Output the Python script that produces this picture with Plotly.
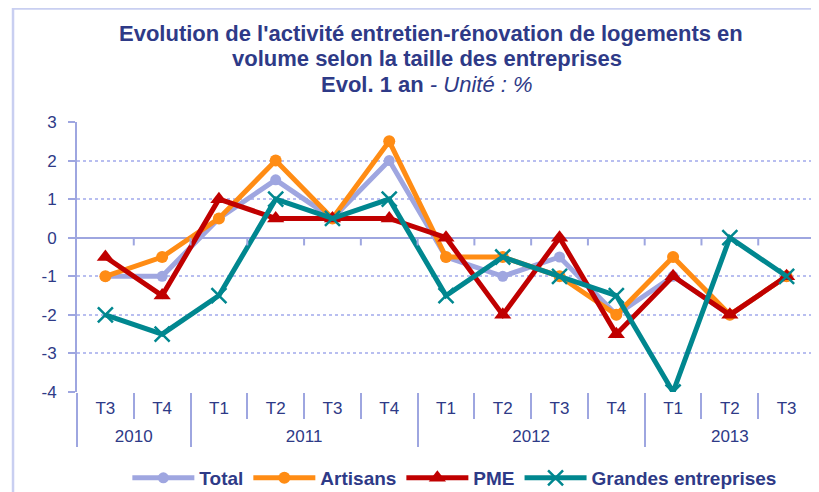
import plotly.graph_objects as go

ZW = "\u200b"  # keeps 2010 quarters distinct so multicategory ordering stays chronological
PAD = "<span style='font-size:27px'>\u00a0</span>"  # taller invisible padding: lowers the year row
years = ["2010", "2010", "2011", "2011", "2011", "2011", "2012", "2012", "2012", "2012", "2013", "2013", "2013"]
quarters = [PAD + "T3" + PAD, "T4" + ZW, "T1", "T2", "T3", "T4", "T1", "T2", "T3", "T4", "T1", "T2", "T3"]

total = [-1, -1, 0.5, 1.5, 0.5, 2, -0.5, -1, -0.5, -2, -1, -2, -1]
artisans = [-1, -0.5, 0.5, 2, 0.5, 2.5, -0.5, -0.5, -1, -2, -0.5, -2, -1]
pme = [-0.5, -1.5, 1, 0.5, 0.5, 0.5, 0, -2, 0, -2.5, -1, -2, -1]
grandes = [-2, -2.5, -1.5, 1, 0.5, 1, -1.5, -0.5, -1, -1.5, -4, 0, -1]

y_ticks = [3, 2, 1, 0, -1, -2, -3, -4]
y_labels = ["3", "2", "1", "0", "-1", "-2", "-3", "-4"]

title_lines = [
    "<b>Evolution de l'activité entretien-rénovation de logements en</b>",
    "<b>volume selon la taille des entreprises</b>",
    "<b>Evol. 1 an</b> <i>- Unité : %</i>",
]

navy = "#2e3a87"
lav = "#9ea6e0"
FONT = "Liberation Sans, Arial, sans-serif"

x = [years, quarters]
fig = go.Figure()
fig.add_trace(go.Scatter(x=x, y=total, name="Total", mode="lines+markers",
                         line=dict(color="#9fa6e0", width=5),
                         marker=dict(symbol="circle", size=11, color="#9fa6e0")))
fig.add_trace(go.Scatter(x=x, y=artisans, name="Artisans", mode="lines+markers",
                         line=dict(color="#ff8c14", width=5),
                         marker=dict(symbol="circle", size=12, color="#ff8c14")))
fig.add_trace(go.Scatter(x=x, y=pme, name="PME", mode="lines+markers",
                         line=dict(color="#c00000", width=5),
                         marker=dict(symbol="triangle-up", size=15, color="#c00000")))
fig.add_trace(go.Scatter(x=x, y=grandes, name="Grandes entreprises", mode="lines+markers",
                         line=dict(color="#00878f", width=5),
                         marker=dict(symbol="x-thin", size=15, line=dict(color="#00878f", width=2.5))))

# helper axis to place small boundary ticks on the zero line
fig.add_trace(go.Scatter(x=[0, 12], y=[None, None], xaxis="x2", showlegend=False, hoverinfo="skip"))

shapes = []
for i in range(len(quarters)):
    b = i + 0.5
    shapes.append(dict(type="line", xref="x2", yref="y", x0=b, x1=b, y0=0, y1=-0.2,
                       line=dict(color=lav, width=2), layer="above"))
# outer frame
shapes.append(dict(type="rect", xref="paper", yref="paper", x0=-0.0867, x1=1.2, y0=-0.6, y1=1.4204,
                   line=dict(color="#c9cff1", width=2.5), layer="below"))

annotations = []
for txt, yy, xx in zip(title_lines, [1.3296, 1.237, 1.1407], [0.480, 0.474, 0.474]):
    annotations.append(dict(text=txt, xref="paper", yref="paper", x=xx, y=yy,
                            xanchor="center", yanchor="middle", showarrow=False,
                            font=dict(family=FONT, size=22, color=navy)))

fig.update_layout(
    width=811, height=484,
    margin=dict(l=69, r=4, t=114, b=100, autoexpand=False),
    paper_bgcolor="white", plot_bgcolor="white",
    font=dict(family=FONT, color=navy, size=17),
    xaxis=dict(
        type="multicategory", range=[-0.5, 12.5], autorange=False,
        showgrid=False, zeroline=False, showline=False,
        ticks="outside", tickson="boundaries", ticklen=26, tickcolor=lav, tickwidth=2,
        showdividers=True, dividercolor=lav, dividerwidth=2, ticklabelstandoff=4,
        tickfont=dict(family=FONT, size=17, color=navy),
    ),
    xaxis2=dict(overlaying="x", anchor="y", range=[-0.5, 12.5], autorange=False,
                showticklabels=False, showgrid=False, zeroline=False, showline=False, ticks=""),
    yaxis=dict(
        range=[-4, 3], tickvals=y_ticks, ticktext=y_labels,
        showgrid=True, gridcolor="#b8bef0", griddash="dot", gridwidth=1.5,
        zeroline=True, zerolinecolor=lav, zerolinewidth=2,
        showline=True, linecolor=lav, linewidth=2,
        ticks="outside", ticklen=7, tickcolor=lav, tickwidth=2, ticklabelstandoff=8,
        tickfont=dict(family=FONT, size=17, color=navy),
    ),
    legend=dict(orientation="h", x=0.512, xanchor="center", y=-0.3185, yanchor="middle",
                font=dict(family=FONT, size=19, color=navy, weight="bold"),
                itemwidth=62, bgcolor="rgba(0,0,0,0)"),
    shapes=shapes,
    annotations=annotations,
)

fig.write_html("out.html")
